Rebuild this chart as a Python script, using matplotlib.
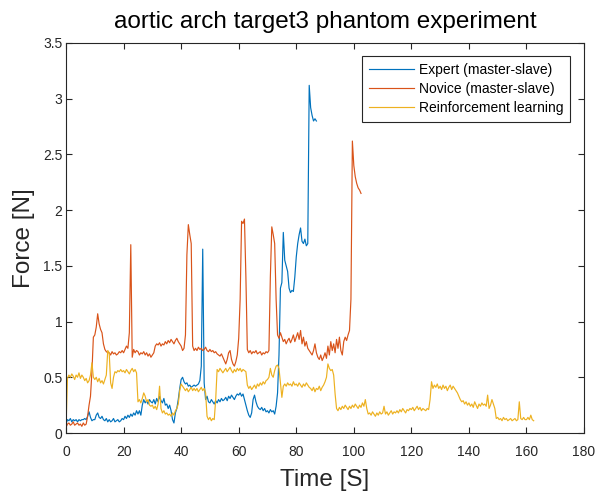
#!/usr/bin/env python
"""Contact force vs time, aortic arch target3 phantom (MATLAB-style figure)."""
import numpy as np
import matplotlib
matplotlib.use("Agg")
import matplotlib.pyplot as plt

DT = 0.5  # sampling interval of the read-off traces [s]

# Expert (master-slave), one value every DT seconds from t = 0
expert = [
    0.08, 0.12, 0.11, 0.13, 0.10, 0.12, 0.11, 0.12, 0.10, 0.12,
    0.11, 0.12, 0.12, 0.13, 0.12, 0.15, 0.19, 0.14, 0.11, 0.12,
    0.12, 0.16, 0.18, 0.14, 0.13, 0.15, 0.12, 0.11, 0.13, 0.10,
    0.12, 0.10, 0.11, 0.13, 0.10, 0.11, 0.12, 0.10, 0.11, 0.13,
    0.12, 0.15, 0.13, 0.16, 0.14, 0.17, 0.15, 0.18, 0.16, 0.20,
    0.17, 0.20, 0.16, 0.25, 0.30, 0.27, 0.29, 0.26, 0.30, 0.28,
    0.27, 0.30, 0.26, 0.31, 0.28, 0.33, 0.29, 0.27, 0.31, 0.25,
    0.26, 0.22, 0.25, 0.20, 0.12, 0.09, 0.18, 0.22, 0.30, 0.40,
    0.48, 0.50, 0.46, 0.44, 0.45, 0.42, 0.43, 0.41, 0.42, 0.43,
    0.42, 0.43, 0.44, 0.47, 0.60, 1.65, 0.45, 0.30, 0.33, 0.28,
    0.27, 0.30, 0.28, 0.26, 0.29, 0.27, 0.30, 0.28, 0.31, 0.29,
    0.30, 0.32, 0.29, 0.33, 0.31, 0.34, 0.32, 0.30, 0.33, 0.35,
    0.34, 0.36, 0.33, 0.35, 0.30, 0.25, 0.20, 0.16, 0.14, 0.18,
    0.30, 0.34, 0.28, 0.24, 0.22, 0.21, 0.23, 0.20, 0.22, 0.19,
    0.20, 0.18, 0.21, 0.19, 0.20, 0.17, 0.24, 0.36, 0.70, 1.30,
    1.35, 1.80, 1.55, 1.50, 1.45, 1.30, 1.26, 1.28, 1.27, 1.40,
    1.58, 1.70, 1.78, 1.84, 1.72, 1.70, 1.74, 1.68, 1.70, 3.12,
    2.92, 2.85, 2.80, 2.82, 2.80,
]

# Novice (master-slave)
novice = [
    0.05, 0.08, 0.09, 0.07, 0.08, 0.10, 0.07, 0.08, 0.09, 0.07,
    0.08, 0.06, 0.09, 0.07, 0.08, 0.15, 0.25, 0.33, 0.55, 0.86,
    0.88, 0.95, 1.07, 0.98, 0.93, 0.90, 0.80, 0.75, 0.73, 0.72,
    0.72, 0.70, 0.73, 0.71, 0.72, 0.70, 0.71, 0.73, 0.72, 0.74,
    0.72, 0.75, 0.78, 0.76, 0.90, 1.69, 0.68, 0.75, 0.72, 0.74,
    0.73, 0.70, 0.72, 0.71, 0.73, 0.70, 0.72, 0.69, 0.71, 0.68,
    0.70, 0.72, 0.78, 0.80, 0.79, 0.81, 0.78, 0.80, 0.79, 0.82,
    0.80, 0.83, 0.81, 0.84, 0.82, 0.80, 0.83, 0.85, 0.82, 0.80,
    0.78, 0.74, 0.76, 0.88, 1.60, 1.87, 1.78, 1.70, 0.78, 0.74,
    0.76, 0.74, 0.77, 0.75, 0.76, 0.74, 0.75, 0.77, 0.74, 0.73,
    0.75, 0.73, 0.74, 0.72, 0.73, 0.71, 0.70, 0.69, 0.71, 0.68,
    0.65, 0.62, 0.66, 0.72, 0.74, 0.66, 0.62, 0.60, 0.64, 0.70,
    0.85, 1.20, 1.90, 1.88, 1.92, 1.40, 0.75, 0.72, 0.74, 0.71,
    0.73, 0.72, 0.74, 0.71, 0.72, 0.73, 0.70, 0.72, 0.71, 0.73,
    0.72, 0.74, 1.40, 1.85, 1.78, 1.70, 1.20, 0.88, 0.85, 0.90,
    0.86, 0.82, 0.84, 0.80, 0.83, 0.85, 0.81, 0.84, 0.88, 0.82,
    0.86, 0.90, 0.84, 0.92, 0.80, 0.86, 0.78, 0.82, 0.76, 0.74,
    0.72, 0.70, 0.74, 0.80, 0.72, 0.68, 0.66, 0.70, 0.65, 0.68,
    0.72, 0.67, 0.78, 0.70, 0.82, 0.74, 0.80, 0.72, 0.84, 0.76,
    0.86, 0.74, 0.70, 0.82, 0.86, 0.83, 0.88, 0.92, 1.20, 2.62,
    2.40, 2.30, 2.24, 2.20, 2.18, 2.15,
]

# Reinforcement learning
rl = [
    0.05, 0.49, 0.52, 0.50, 0.53, 0.51, 0.48, 0.52, 0.50, 0.54,
    0.49, 0.52, 0.50, 0.47, 0.49, 0.45, 0.47, 0.52, 0.63, 0.50,
    0.48, 0.50, 0.46, 0.49, 0.45, 0.47, 0.44, 0.48, 0.52, 0.74,
    0.72, 0.45, 0.40, 0.50, 0.55, 0.54, 0.56, 0.55, 0.57, 0.55,
    0.56, 0.54, 0.57, 0.55, 0.53, 0.56, 0.58, 0.55, 0.57, 0.54,
    0.28, 0.30, 0.27, 0.31, 0.36, 0.33, 0.28, 0.30, 0.25, 0.24,
    0.25, 0.22, 0.24, 0.21, 0.26, 0.42, 0.22, 0.18, 0.20, 0.17,
    0.18, 0.16, 0.17, 0.15, 0.18, 0.16, 0.20, 0.22, 0.26, 0.38,
    0.44, 0.42, 0.40, 0.38, 0.40, 0.37, 0.39, 0.41, 0.38, 0.40,
    0.38, 0.40, 0.37, 0.39, 0.41, 0.38, 0.40, 0.36, 0.15, 0.12,
    0.14, 0.11, 0.13, 0.12, 0.30, 0.57, 0.55, 0.58, 0.56, 0.54,
    0.56, 0.58, 0.55, 0.57, 0.59, 0.56, 0.54, 0.57, 0.55, 0.58,
    0.56, 0.58, 0.55, 0.57, 0.56, 0.55, 0.43, 0.40, 0.42, 0.39,
    0.41, 0.43, 0.40, 0.44, 0.42, 0.45, 0.43, 0.46, 0.44, 0.47,
    0.48, 0.50, 0.58, 0.52, 0.50, 0.56, 0.60, 0.61, 0.58, 0.45,
    0.32, 0.42, 0.44, 0.42, 0.45, 0.43, 0.44, 0.42, 0.46, 0.43,
    0.44, 0.42, 0.45, 0.43, 0.41, 0.44, 0.42, 0.45, 0.43, 0.41,
    0.40, 0.38, 0.41, 0.37, 0.40, 0.39, 0.42, 0.38, 0.41, 0.43,
    0.46, 0.50, 0.62, 0.58, 0.56, 0.57, 0.52, 0.35, 0.22, 0.20,
    0.23, 0.21, 0.24, 0.22, 0.25, 0.23, 0.21, 0.24, 0.22, 0.25,
    0.23, 0.26, 0.24, 0.22, 0.25, 0.23, 0.27, 0.24, 0.30, 0.22,
    0.17, 0.18, 0.16, 0.19, 0.17, 0.15, 0.18, 0.16, 0.19, 0.17,
    0.18, 0.24, 0.17, 0.19, 0.16, 0.18, 0.20, 0.17, 0.19, 0.18,
    0.20, 0.18, 0.21, 0.19, 0.22, 0.20, 0.18, 0.21, 0.20, 0.22,
    0.21, 0.23, 0.20, 0.22, 0.24, 0.21, 0.23, 0.20, 0.22, 0.21,
    0.20, 0.22, 0.21, 0.30, 0.46, 0.40, 0.43, 0.41, 0.44, 0.40,
    0.42, 0.39, 0.43, 0.40, 0.42, 0.38, 0.41, 0.43, 0.39, 0.42,
    0.40, 0.38, 0.36, 0.33, 0.30, 0.28, 0.29, 0.26, 0.28, 0.25,
    0.27, 0.24, 0.26, 0.23, 0.28, 0.25, 0.22, 0.26, 0.24, 0.27,
    0.25, 0.26, 0.24, 0.34, 0.22, 0.25, 0.30, 0.26, 0.22, 0.13,
    0.14, 0.12, 0.13, 0.11, 0.14, 0.12, 0.13, 0.11, 0.12, 0.13,
    0.11, 0.12, 0.13, 0.11, 0.12, 0.28, 0.13, 0.12, 0.14, 0.12,
    0.12, 0.14, 0.12, 0.16, 0.12, 0.11,
]

labels = ["Expert (master-slave)", "Novice (master-slave)", "Reinforcement learning"]
colors = ["#0072BD", "#D95319", "#EDB120"]  # MATLAB default order

xticks = list(range(0, 181, 20))
yticks = [0, 0.5, 1, 1.5, 2, 2.5, 3, 3.5]
ytick_labels = ["0", "0.5", "1", "1.5", "2", "2.5", "3", "3.5"]

AX_COLOR = "#262626"


def main():
    plt.rcParams["font.family"] = ["Liberation Sans", "DejaVu Sans"]

    fig = plt.figure(figsize=(5.97, 4.93), dpi=100)
    ax = fig.add_axes([0.1106, 0.1217, 0.8677, 0.7911])

    for vals, lab, c in zip([expert, novice, rl], labels, colors):
        t = np.arange(len(vals)) * DT
        ax.plot(t, vals, color=c, lw=0.85, label=lab)

    ax.set_xlim(0, 180)
    ax.set_ylim(0, 3.5)
    ax.set_xticks(xticks)
    ax.set_yticks(yticks)
    ax.set_yticklabels(ytick_labels)

    ax.tick_params(direction="in", length=4, width=0.8, top=True, right=True,
                   colors=AX_COLOR, labelsize=10)
    ax.tick_params(axis="x", pad=8.5)
    ax.tick_params(axis="y", pad=2.5)
    for sp in ax.spines.values():
        sp.set_color(AX_COLOR)
        sp.set_linewidth(0.8)

    ax.set_title("aortic arch target3 phantom experiment", fontsize=17.5,
                 color="black", pad=11)
    ax.set_xlabel("Time [S]", fontsize=17.5, color=AX_COLOR, labelpad=7.5)
    ax.set_ylabel("Force [N]", fontsize=17.5, color=AX_COLOR, labelpad=6)

    leg = ax.legend(loc="upper right", bbox_to_anchor=(0.973, 0.967),
                    borderaxespad=0, fontsize=10, handlelength=3.2,
                    handletextpad=0.35, labelspacing=0.38, borderpad=0.5,
                    fancybox=False, framealpha=1)
    leg.get_frame().set_edgecolor(AX_COLOR)
    leg.get_frame().set_linewidth(0.8)

    fig.savefig("out.png", dpi=100)
    plt.close(fig)
    print("saved out.png")


if __name__ == "__main__":
    main()
